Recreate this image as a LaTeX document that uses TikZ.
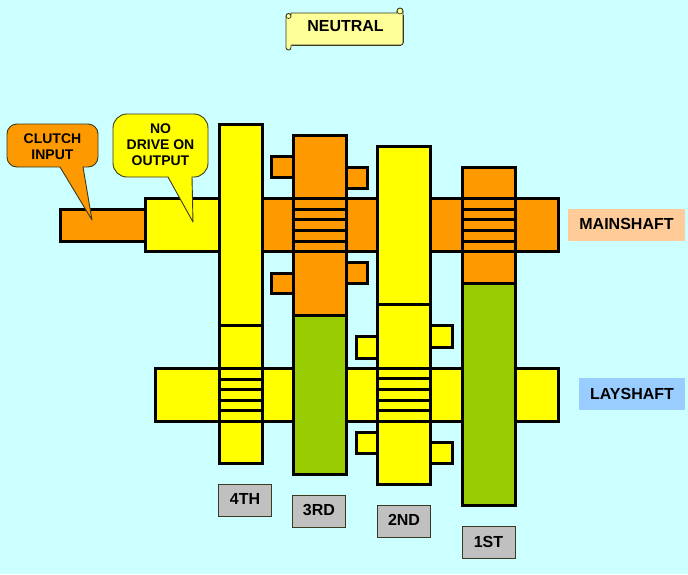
\documentclass[tikz,border=0pt]{standalone}
\usepackage{fontspec}
\setmainfont{Liberation Sans}
\definecolor{bgc}{HTML}{CCFFFF}
\definecolor{gearorange}{HTML}{FF9900}
\definecolor{gearyellow}{HTML}{FFFF00}
\definecolor{geargreen}{HTML}{99CC00}
\definecolor{taggray}{HTML}{C0C0C0}
\definecolor{peach}{HTML}{FFCC99}
\definecolor{skyb}{HTML}{99CCFF}
\definecolor{scrollfill}{HTML}{FFFF99}
\definecolor{edge}{HTML}{3A3A20}
\tikzset{
 part/.style={draw=black,line width=3pt,line join=miter},
 org/.style={part,fill=gearorange},
 yel/.style={part,fill=gearyellow},
 grn/.style={part,fill=geargreen},
 spl/.style={draw=black,line width=3pt},
 callout/.style={draw=edge,line width=0.9pt,line join=round},
 ctext/.style={font=\bfseries\fontsize{14}{16}\selectfont,align=center,inner sep=0pt,text=black},
 lab/.style={font=\bfseries\fontsize{16}{19}\selectfont,inner sep=0pt,text=black},
 tag/.style={draw=edge,line width=0.8pt,fill=taggray,font=\bfseries\fontsize{16}{19}\selectfont,inner sep=0pt,text=black},
}
\begin{document}
\begin{tikzpicture}[x=1pt,y=-1pt]
\useasboundingbox (0,0) rectangle (688,574);
\fill[bgc] (0,0) rectangle (688,574);
% shafts
\draw[org] (60,209) rectangle (145,241);
\draw[org] (262,198) rectangle (558,251);
\draw[yel] (145,198) rectangle (219,251);
\draw[yel] (155,368) rectangle (558,421);
% collars 3rd
\draw[org] (271,156) rectangle (293,177);
\draw[org] (346,167) rectangle (367,188);
\draw[org] (271,273) rectangle (293,293);
\draw[org] (346,262) rectangle (367,283);
% collars 2nd
\draw[yel] (430,325) rectangle (452,347);
\draw[yel] (356,336) rectangle (377,358);
\draw[yel] (356,432) rectangle (377,453);
\draw[yel] (430,442) rectangle (452,463);
% 4th
\draw[yel] (219,124) rectangle (262,463);
\draw[spl] (219,325) -- (262,325);
\foreach \y in {368,379,389,400,410,421} \draw[spl] (219,\y) -- (262,\y);
% 3rd
\draw[grn] (293,315) rectangle (346,474);
\draw[org] (293,135) rectangle (346,315);
\foreach \y in {198,209,219,230,241,251} \draw[spl] (293,\y) -- (346,\y);
% 2nd
\draw[yel] (377,146) rectangle (430,484);
\draw[spl] (377,304) -- (430,304);
\foreach \y in {368,378,389,400,410,421} \draw[spl] (377,\y) -- (430,\y);
% 1st
\draw[grn] (462,283) rectangle (515,505);
\draw[org] (462,167) rectangle (515,283);
\foreach \y in {198,209,219,230,241,251} \draw[spl] (462,\y) -- (515,\y);
% callouts
\draw[callout,fill=gearorange] (7,145) [rounded corners=10pt] -- (7,124) -- (98,124) -- (98,167) [sharp corners] -- (83,167) -- (92,220) -- (60,167) [rounded corners=10pt] -- (7,167) -- cycle;
\node[ctext] (clutch) at (52.5,146.5) {CLUTCH\\INPUT};
\draw[callout,fill=gearyellow] (113,145) [rounded corners=14pt] -- (113,114) -- (208,114) -- (208,177) [sharp corners] -- (192,177) -- (193,222) -- (168,177) [rounded corners=14pt] -- (113,177) -- cycle;
\node[ctext] (nodrive) at (160.5,145) {NO\\DRIVE ON\\OUTPUT};
% scroll
\draw[callout,fill=scrollfill] (291,13) -- (397,13) -- (397,11) arc[start angle=180,end angle=0,radius=3pt] -- (403,43) arc[start angle=0,end angle=-90,radius=2pt] -- (291,45) -- (291,47.5) arc[start angle=0,end angle=-180,radius=2.5pt] -- (286,16) arc[start angle=180,end angle=0,radius=2.5pt] -- cycle;
\draw[callout,line width=0.7pt] (286,16) arc[start angle=180,end angle=360,radius=2.5pt];
\draw[callout,line width=0.7pt] (397,11) arc[start angle=180,end angle=360,radius=3pt];
\draw[edge,line width=1.4pt] (403.3,15) -- (403.3,43);
\draw[edge,line width=1.4pt] (292,45.3) -- (401,45.3);
\node[lab] (neutral) at (345.5,26.5) {NEUTRAL};
% labels
\node[lab,fill=peach,minimum width=117pt,minimum height=32pt] (main) at (626.5,225) {\raisebox{1.5pt}{MAINSHAFT}};
\node[lab,fill=skyb,minimum width=106pt,minimum height=32pt] (lay) at (632,394) {\raisebox{1pt}{LAYSHAFT}};
\node[tag,minimum width=53pt,minimum height=32pt] (g4) at (245,500) {\raisebox{1.5pt}{4TH}};
\node[tag,minimum width=53pt,minimum height=32pt] (g3) at (319,511) {\raisebox{1.5pt}{3RD}};
\node[tag,minimum width=53pt,minimum height=32pt] (g2) at (404,521) {\raisebox{1.5pt}{2ND}};
\node[tag,minimum width=53pt,minimum height=32pt] (g1) at (488.5,542.5) {\raisebox{1.5pt}{1ST}};
\end{tikzpicture}
\end{document}
